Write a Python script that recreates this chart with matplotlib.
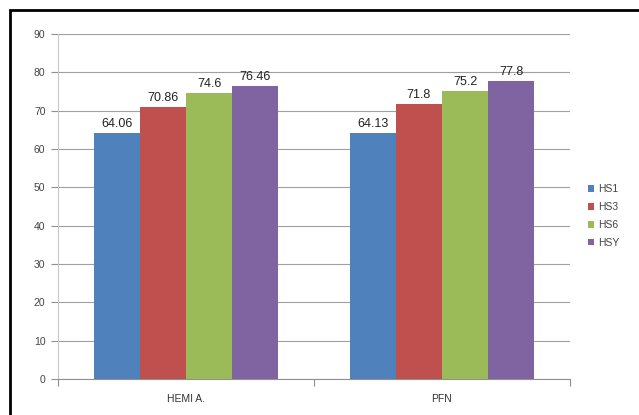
import matplotlib
matplotlib.use("Agg")
import matplotlib.pyplot as plt
import numpy as np

categories = ["HEMI A.", "PFN"]
series = ["HS1", "HS3", "HS6", "HSY"]
HS1 = [64.06, 64.13]
HS3 = [70.86, 71.8]
HS6 = [74.6, 75.2]
HSY = [76.46, 77.8]
labels = [["64.06", "64.13"], ["70.86", "71.8"], ["74.6", "75.2"], ["76.46", "77.8"]]
yticks = [0, 10, 20, 30, 40, 50, 60, 70, 80, 90]

colors = ["#4F81BD", "#C0504D", "#9BBB59", "#8064A2"]
plt.rcParams['font.family'] = ['Liberation Sans', 'DejaVu Sans']

fig = plt.figure(figsize=(6.39, 4.15), dpi=100)
ax = fig.add_axes([58/639, 1-379/415, (570-58)/639, (379-34)/415])

x = np.arange(len(categories))
w = 0.18
vals = [HS1, HS3, HS6, HSY]
for i, (v, c, name) in enumerate(zip(vals, colors, series)):
    pos = x + (i - 1.5) * w
    ax.bar(pos, v, width=w, color=c, label=name, zorder=3)
    for p, val, lab in zip(pos, v, labels[i]):
        ax.text(p, val + 0.8, lab, ha='center', va='bottom', fontsize=9, color='#222222', zorder=4)

ax.set_xlim(-0.5, 1.5)
ax.set_ylim(0, 90)
ax.set_yticks(yticks)
ax.yaxis.grid(True, color='#a0a0a0', linewidth=0.8, zorder=0)
ax.set_axisbelow(True)
for s in ['top', 'right']:
    ax.spines[s].set_visible(False)
ax.spines['left'].set_color('#c8c8c8')
ax.spines['bottom'].set_color('#909090')
ax.tick_params(axis='y', length=5, color='#909090', labelsize=7.5, labelcolor='#444444', pad=4)
ax.set_xticks([-0.5, 0.5, 1.5])
ax.set_xticklabels([])
ax.set_xticks(x, minor=True)
ax.set_xticklabels(categories, minor=True)
ax.tick_params(axis='x', which='major', length=5, color='#909090')
ax.tick_params(axis='x', which='minor', length=0, labelsize=7.5, labelcolor='#333333', pad=11)

leg = ax.legend(loc='center left', bbox_to_anchor=((588-58)/512, 1 - (216-34)/345), frameon=False,
                fontsize=7.5, handlelength=0.6, handleheight=0.6, handletextpad=0.4,
                labelspacing=0.75, labelcolor='#444444', borderpad=0, borderaxespad=0)

# border
fig.add_artist(plt.Rectangle((10/639, -0.01), 1.0, 1 - 10/415 + 0.01, transform=fig.transFigure,
                             fill=False, edgecolor='black', linewidth=2))
fig.savefig("out.png", dpi=100)
